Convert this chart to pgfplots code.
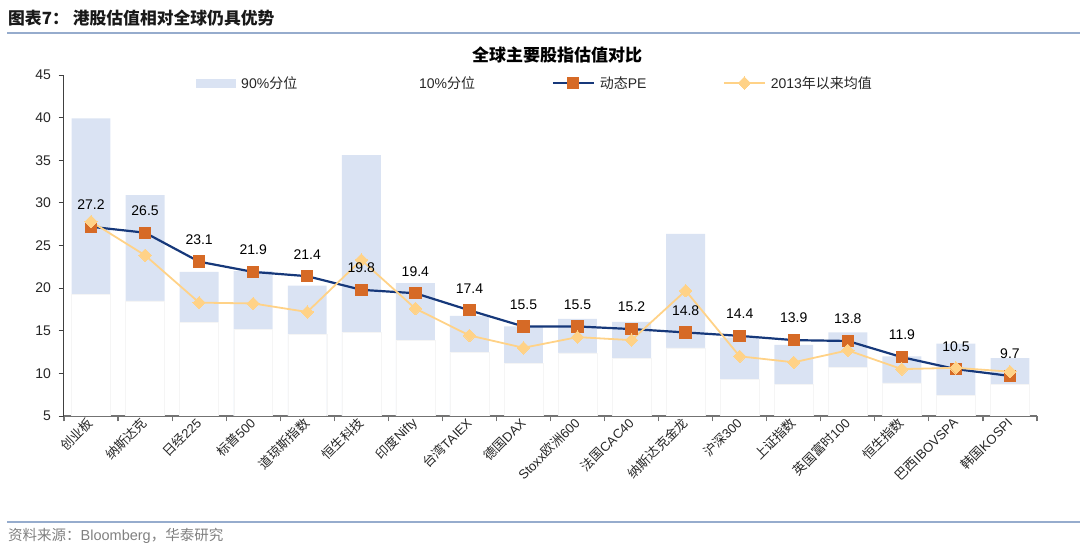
\documentclass[border=0pt]{standalone}
\usepackage{fontspec}
\setmainfont{Liberation Sans}
\newfontfamily\cjk{Noto Sans CJK SC}
\usepackage{pgfplots}
\usepackage{pgfplotstable}
\pgfplotsset{compat=1.18}
\definecolor{barblue}{RGB}{218,227,243}
\definecolor{navy}{RGB}{22,56,122}
\definecolor{sqorange}{RGB}{214,106,38}
\definecolor{avgyellow}{RGB}{255,210,135}
\definecolor{rulecol}{RGB}{150,172,205}
\pgfplotsset{
 barleg/.style={legend image code/.code={\fill[##1] (0pt,-4.5pt) rectangle (40pt,4.5pt);}},
 whiteleg/.style={legend image code/.code={\fill[white] (0pt,-4.5pt) rectangle (40pt,4.5pt);}},
 lineleg/.style={legend image code/.code={\draw[mark repeat=2,mark phase=2,##1] plot coordinates {(0pt,0pt) (20.5pt,0pt) (41pt,0pt)};}},
}

\pgfplotstableread{
x p10 p90 pe avg
0 19.3 39.9 27.2 27.8
1 18.5 30.9 26.5 23.85
2 16.0 21.9 23.1 18.3
3 15.2 22.0 21.9 18.2
4 14.6 20.3 21.4 17.2
5 14.8 35.6 19.8 23.3
6 13.9 20.6 19.4 17.6
7 12.5 16.75 17.4 14.45
8 11.2 15.5 15.5 13.0
9 12.4 16.4 15.5 14.25
10 11.75 16.05 15.2 13.9
11 13.0 26.35 14.8 19.7
12 9.3 14.2 14.4 12.0
13 8.7 13.35 13.9 11.3
14 10.7 14.8 13.8 12.7
15 8.9 12.0 11.9 10.5
16 7.4 13.5 10.5 10.65
17 8.7 11.8 9.7 10.2
}\data

\begin{document}
\begin{tikzpicture}
\useasboundingbox (0,0) rectangle (1080pt,557pt);
\node[anchor=west, inner sep=0pt, font=\fontsize{16.8}{18}\selectfont\bfseries\cjk, text=black!90] at (8pt,539pt) {图表7：\hspace{4pt}港股估值相对全球仍具优势};
\draw[rulecol, line width=1.5pt] (7pt,524pt) -- (1080pt,524pt);
\node[inner sep=0pt, font=\fontsize{17}{18}\selectfont\bfseries\cjk] at (557pt,502pt) {全球主要股指估值对比};
\draw[rulecol, line width=1.2pt] (7pt,35pt) -- (1080pt,35pt);
\node[anchor=west, inner sep=0pt, text=black!50, font=\fontsize{14.5}{16}\selectfont] at (8pt,21pt) {{\cjk 资料来源：}Bloomberg{\cjk ，华泰研究}};

\begin{axis}[
 scale only axis, width=973pt, height=341pt,
 at={(64pt,141pt)}, anchor=south west,
 xmin=-0.5, xmax=17.5, ymin=5, ymax=45,
 ytick={5,10,...,45},
 xtick={-0.5,0.5,...,17.5},
 xticklabels={},
 extra x ticks={0,1,...,17},
 extra x tick labels={{\cjk 创业板},{\cjk 纳斯达克},{\cjk 日经}225,{\cjk 标普}500,{\cjk 道琼斯指数},{\cjk 恒生科技},{\cjk 印度}Nifty,{\cjk 台湾}TAIEX,{\cjk 德国}DAX,Stoxx{\cjk 欧洲}600,{\cjk 法国}CAC40,{\cjk 纳斯达克金龙},{\cjk 沪深}300,{\cjk 上证指数},{\cjk 英国富时}100,{\cjk 恒生指数},{\cjk 巴西}IBOVSPA,{\cjk 韩国}KOSPI},
 extra x tick style={major tick length=0pt, tick style={draw=none},
   xticklabel style={font=\fontsize{13}{15}\selectfont, rotate=45, anchor=east, text=black!85, xshift=0pt, yshift=-3pt}},
 axis x line*=bottom, axis y line*=left,
 x axis line style={black!55, line width=1.3pt},
 y axis line style={black!75, line width=1pt},
 tick align=outside,
 major tick length=5.5pt,
 x tick style={black!55, line width=1.2pt},
 y tick style={black!75, line width=0.8pt},
 /pgf/number format/assume math mode=true,
 yticklabel style={font=\fontsize{14}{16}\selectfont, text=black!85, xshift=-4pt},
 legend columns=4,
 legend cell align=left,
 legend style={at={(axis description cs:0.1357,0.9765)}, anchor=west, draw=none, fill=none, inner sep=0pt,
   font=\fontsize{14}{15}\selectfont, text=black!85,
   /tikz/every even column/.append style={column sep=74.5pt},
   /tikz/every odd column/.append style={column sep=3pt}},
]
\addplot[ybar, bar width=0.72, bar shift=0pt, fill=barblue, draw=none, barleg] table[x=x,y=p90] {\data};
\addplot[ybar, bar width=0.72, bar shift=0pt, fill=white, draw=black!4, whiteleg] table[x=x,y=p10] {\data};
\addplot[navy, line width=2.2pt, mark=square*, mark size=5.7pt,
  mark options={fill=sqorange, draw=sqorange, line width=0pt}, lineleg] table[x=x,y=pe] {\data};
\addplot[avgyellow, line width=1.8pt, mark=square*, mark size=4.4pt,
  mark options={rotate=45, fill=avgyellow, draw=avgyellow, line width=0pt}, lineleg] table[x=x,y=avg] {\data};
\addplot[draw=none, mark=none, forget plot, nodes near coords,
  nodes near coords={\pgfmathprintnumber[fixed,precision=1,fixed zerofill,assume math mode=true]{\pgfplotspointmeta}},
  every node near coord/.append style={anchor=center, yshift=22pt, font=\fontsize{14}{16}\selectfont, text=black}] table[x=x,y=pe] {\data};
\legend{90\%{\cjk 分位},10\%{\cjk 分位},{\cjk 动态}PE,2013{\cjk 年以来均值}}
\end{axis}
\end{tikzpicture}
\end{document}
